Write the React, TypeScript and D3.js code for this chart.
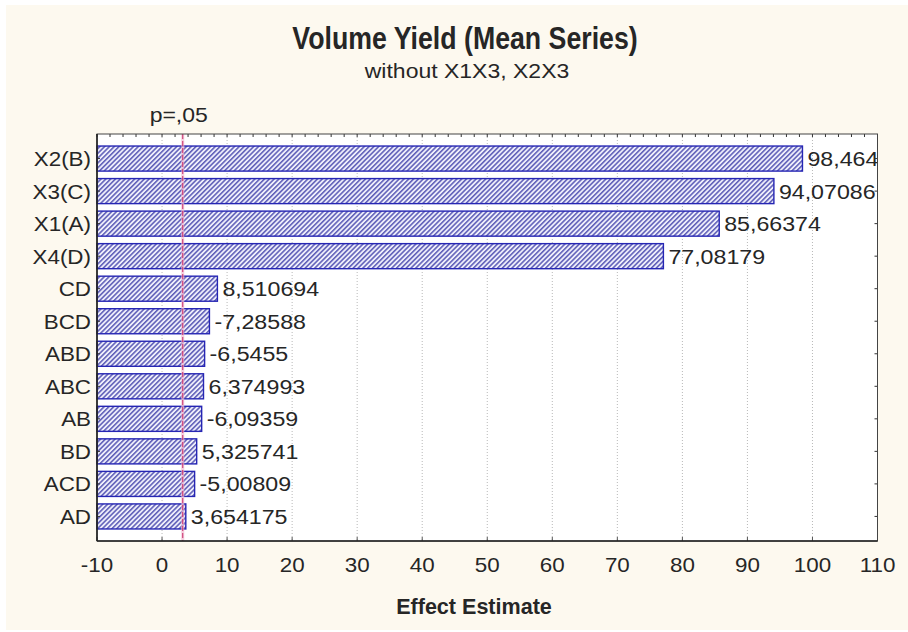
import React from "react";
import * as d3 from "d3";

const categories = ["X2(B)", "X3(C)", "X1(A)", "X4(D)", "CD", "BCD", "ABD", "ABC", "AB", "BD", "ACD", "AD"];
const effects = [98.464, 94.07086, 85.66374, 77.08179, 8.510694, -7.28588, -6.5455, 6.374993, -6.09359, 5.325741, -5.00809, 3.654175];
const xTicks = [-10, 0, 10, 20, 30, 40, 50, 60, 70, 80, 90, 100, 110];
const pCritical = 3.182446;
const titleText = "Volume Yield (Mean Series)";
const subtitleText = "without X1X3, X2X3";
const pLabel = "p=,05";
const xAxisTitle = "Effect Estimate";

const W = 908;
const H = 632;
const L = 97, R = 877.5, T = 134, B = 541;
const SX = 1.16;
const BODY_FONT = "'Liberation Sans', Arial, sans-serif";

function fmt(v: number): string {
  return String(Number(v.toPrecision(7))).replace(".", ",");
}

function T_(props: { x: number; y: number; anchor?: string; size: number; weight?: string; family?: string; sx?: number; children: React.ReactNode; fill?: string }) {
  const { x, y, anchor = "start", size, weight = "normal", family = BODY_FONT, sx = SX, fill = "#262626" } = props;
  return (
    <text
      transform={`translate(${x},${y}) scale(${sx},1)`}
      textAnchor={anchor}
      fontSize={size}
      fontWeight={weight}
      fontFamily={family}
      fill={fill}
    >
      {props.children}
    </text>
  );
}

export default function App() {
  const x = d3.scaleLinear().domain([-10, 110]).range([L, R]);
  const y = d3.scaleBand<string>().domain(categories).range([T, B]).paddingInner(0.23).paddingOuter(0.37);
  const bw = y.bandwidth();
  const minorTicks = d3.range(-10, 111, 2);
  const px = x(pCritical);

  return (
    <svg width={W} height={H} style={{ position: "absolute", left: 0, top: 0 }}>
      <defs>
        <pattern id="hatch" patternUnits="userSpaceOnUse" width={3.4} height={3.4} patternTransform="rotate(45)">
          <rect width={3.4} height={3.4} fill="#eeeefb" />
          <line x1={0.8} y1={0} x2={0.8} y2={3.4} stroke="#3434a4" strokeWidth={1.2} />
        </pattern>
        <clipPath id="plotclip">
          <rect x={L} y={T} width={R - L} height={B - T} />
        </clipPath>
      </defs>
      <rect width={W} height={H} fill="#ffffff" />
      <rect x={6} y={5} width={W - 6} height={H - 7} fill="#fdf9ef" />
      <rect x={L} y={T} width={R - L} height={B - T} fill="#ffffff" />

      {/* grid */}
      {xTicks.filter((t) => t > -10 && t < 110).map((t) => (
        <line key={"g" + t} x1={x(t)} x2={x(t)} y1={T} y2={B} stroke="#b8b8b8" strokeWidth={1} strokeDasharray="1,2" />
      ))}

      {/* bars */}
      {categories.map((c, i) => (
        <rect
          key={c}
          x={x(-10)}
          y={y(c)!}
          width={x(Math.abs(effects[i])) - x(-10)}
          height={bw}
          fill="url(#hatch)"
          stroke="#2626b4"
          strokeWidth={1.4}
        />
      ))}

      {/* p line */}
      <line x1={px} x2={px} y1={T} y2={B} stroke="#f2b8d0" strokeWidth={3} opacity={0.7} />
      <line x1={px} x2={px} y1={T} y2={B} stroke="#c8306a" strokeWidth={1} strokeDasharray="5,2" />

      {/* value labels */}
      <g clipPath="url(#plotclip)">
        {categories.map((c, i) => (
          <T_ key={"v" + c} x={x(Math.abs(effects[i])) + 5} y={y(c)! + bw / 2 + 7.5} size={20}>
            {fmt(effects[i])}
          </T_>
        ))}
      </g>

      {/* ticks */}
      {minorTicks.map((t) => (
        <line key={"mt" + t} x1={x(t)} x2={x(t)} y1={T} y2={T + 3} stroke="#333" strokeWidth={1} />
      ))}
      {xTicks.map((t) => (
        <line key={"bt" + t} x1={x(t)} x2={x(t)} y1={B} y2={B - 4} stroke="#555" strokeWidth={1} />
      ))}
      {categories.map((c) => (
        <g key={"yt" + c}>
          <line x1={L} x2={L + 3} y1={y(c)! + bw / 2} y2={y(c)! + bw / 2} stroke="#333" />
          <line x1={R} x2={R - 3} y1={y(c)! + bw / 2} y2={y(c)! + bw / 2} stroke="#333" />
        </g>
      ))}

      {/* frame */}
      <rect x={L} y={T} width={R - L} height={B - T} fill="none" stroke="#444" strokeWidth={1} />
      <line x1={L} x2={L} y1={T} y2={B} stroke="#222" strokeWidth={1.6} />
      <line x1={L} x2={R} y1={B} y2={B} stroke="#222" strokeWidth={1.6} />

      {/* category labels */}
      {categories.map((c) => (
        <T_ key={"c" + c} x={91} y={y(c)! + bw / 2 + 7.5} anchor="end" size={20} sx={1.12}>
          {c}
        </T_>
      ))}

      {/* x tick labels */}
      {xTicks.map((t) => (
        <T_ key={"xl" + t} x={x(t)} y={572} anchor="middle" size={20} sx={1.12}>
          {t === -10 ? "-10" : String(t)}
        </T_>
      ))}

      {/* titles */}
      <T_ x={465} y={49} anchor="middle" size={32} weight="bold" sx={0.835}>
        {titleText}
      </T_>
      <T_ x={467} y={78} anchor="middle" size={20} sx={1.15}>
        {subtitleText}
      </T_>
      <T_ x={px - 4} y={122} anchor="middle" size={20} sx={1.15}>
        {pLabel}
      </T_>
      <T_ x={474} y={614} anchor="middle" size={22} weight="bold" sx={0.98}>
        {xAxisTitle}
      </T_>
    </svg>
  );
}
